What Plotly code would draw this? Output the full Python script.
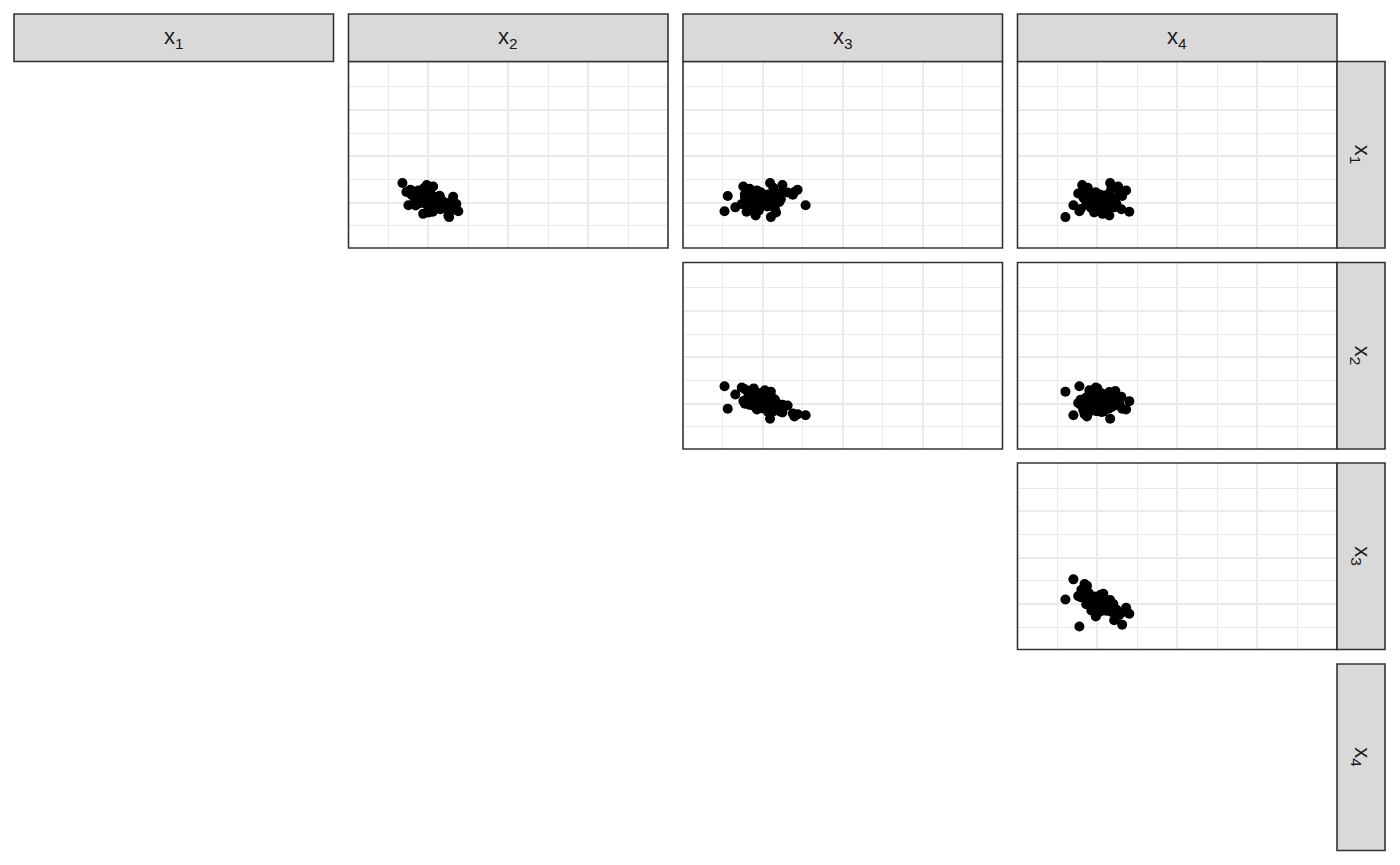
import plotly.graph_objects as go

# ---- data ----
var_labels = ["x<sub>1</sub>", "x<sub>2</sub>", "x<sub>3</sub>", "x<sub>4</sub>"]

x1 = [1.63, 1.89, 2.31, 2.05, 1.72, 2.48, 2.12, 1.95, 2.60, 1.84, 2.22, 2.02, 1.58, 2.37, 1.91,
      2.15, 2.70, 1.76, 2.08, 1.99, 2.44, 1.67, 2.26, 2.53, 1.87, 2.11, 1.80, 2.34, 1.98, 2.18,
      1.45, 2.40, 2.03, 1.93, 2.64, 1.70, 2.29, 2.07, 1.82, 2.56, 2.14, 1.96, 1.52, 2.36, 2.00,
      1.88, 2.20, 2.76, 1.78, 2.09, 1.61, 2.46, 2.24, 1.94, 2.01, 1.73, 2.32, 2.13, 2.85, 1.38,
      1.95, 2.10, 2.25, 1.85, 2.05, 1.78, 2.18, 2.30, 1.92, 2.02, 2.14, 1.88, 2.40, 1.70, 2.08,
      1.98, 2.22, 1.82, 2.35, 2.00, 1.90, 2.12, 2.28, 1.75, 2.04, 2.16, 1.86, 2.45, 1.94, 2.06]
x2 = [2.75, 1.50, 2.10, 1.85, 2.30, 1.62, 2.05, 2.42, 1.95, 2.18, 1.72, 2.55, 2.01, 1.88, 2.27,
      1.66, 2.12, 2.48, 1.80, 2.35, 1.92, 2.08, 2.62, 1.75, 2.20, 1.98, 2.40, 1.58, 2.15, 1.83,
      2.50, 2.03, 1.70, 2.25, 1.90, 2.66, 1.78, 2.32, 2.07, 1.55, 2.14, 2.45, 1.87, 2.00, 2.58,
      1.68, 2.22, 1.96, 2.38, 1.81, 2.11, 1.45, 2.29, 2.70, 1.93, 2.17, 1.64, 2.04, 1.35, 2.52,
      2.05, 1.90, 2.20, 2.35, 1.80, 2.10, 1.95, 2.28, 2.00, 1.72, 2.15, 2.40, 1.88, 2.02, 2.25,
      1.78, 2.08, 2.32, 1.92, 2.18, 2.45, 1.85, 1.98, 2.12, 2.38, 1.68, 2.22, 2.03, 1.94, 2.30]
x3 = [1.04, 3.07, 1.96, 1.95, 1.63, 2.49, 1.85, 1.99, 1.67, 2.11, 2.40, 1.62, 2.33, 1.88, 2.20,
      2.45, 1.51, 1.73, 2.21, 1.85, 2.62, 1.90, 1.55, 1.85, 2.28, 1.71, 1.31, 2.75, 2.00, 2.06,
      1.82, 2.35, 2.41, 1.76, 2.26, 1.77, 1.12, 2.14, 1.72, 2.87, 1.87, 1.94, 1.81, 1.55, 2.05,
      2.27, 2.01, 2.49, 1.79, 2.17, 1.59, 2.79, 1.83, 1.47, 1.74, 2.30, 2.13, 1.93, 2.18, 2.20,
      2.08, 1.88, 2.12, 1.81, 1.97, 1.86, 2.22, 1.72, 2.11, 2.14, 1.85, 1.99, 2.24, 1.74, 2.00,
      2.08, 1.86, 1.91, 2.12, 1.86, 1.83, 1.92, 2.15, 1.74, 2.00, 2.23, 1.79, 1.95, 2.07, 1.81]
x4 = [1.55, 1.40, 2.20, 1.95, 2.60, 1.78, 2.05, 1.88, 2.35, 2.12, 1.65, 2.45, 1.92, 2.28, 1.72,
      2.15, 2.52, 1.85, 2.02, 2.38, 1.60, 2.25, 1.98, 2.72, 1.82, 2.10, 2.42, 1.70, 2.18, 1.94,
      2.30, 1.52, 2.08, 2.48, 1.76, 2.00, 2.62, 1.90, 2.22, 1.68, 2.35, 1.86, 2.13, 2.55, 1.80,
      1.98, 2.40, 1.62, 2.26, 2.06, 2.80, 1.74, 2.16, 1.96, 2.44, 1.58, 2.10, 1.89, 2.32, 1.20,
      2.00, 2.15, 1.85, 2.25, 1.95, 2.32, 1.78, 2.08, 2.20, 1.90, 2.40, 2.02, 1.82, 2.12, 1.72,
      2.28, 1.98, 2.18, 2.05, 1.88, 2.10, 2.35, 1.92, 2.22, 1.80, 2.06, 2.45, 1.96, 2.14, 1.86]

variables = [x1, x2, x3, x4]
# panels: (row variable on y, column variable on x), upper triangle
panels = [(0, 1), (0, 2), (0, 3), (1, 2), (1, 3), (2, 3)]

x_range = [0, 8]
y_range = [0.05, 8.08]
major_ticks = [2, 4, 6]
minor_ticks = [1, 3, 5, 7]

# ---- layout geometry (pixels) ----
W, H = 1400, 865
col_left = [14, 348.5, 683, 1017.5]
col_w = 319.5
row_top = [61.5, 262.5, 463, 664]
row_h = 186.5
strip_top = 14
strip_x = (1337, 1385)

STRIP_FILL = "#D9D9D9"
BORDER = "#333333"
GRID = "#EBEBEB"
TEXT = "#1A1A1A"
FONT = "Liberation Sans, Arial, sans-serif"


def px(x):
    return x / W


def py(y):
    return 1 - y / H


fig = go.Figure()
layout = dict(
    width=W, height=H,
    margin=dict(l=0, r=0, t=0, b=0),
    paper_bgcolor="white", plot_bgcolor="white",
    showlegend=False,
    font=dict(family=FONT, color=TEXT),
)
shapes = []
annotations = []

for k, (r, c) in enumerate(panels):
    n = k + 1
    xa = "xaxis" if n == 1 else f"xaxis{n}"
    ya = "yaxis" if n == 1 else f"yaxis{n}"
    xref = "x" if n == 1 else f"x{n}"
    yref = "y" if n == 1 else f"y{n}"
    fig.add_trace(go.Scatter(
        x=variables[c], y=variables[r], mode="markers",
        marker=dict(color="black", size=10, line=dict(width=0)),
        xaxis=xref, yaxis=yref, hoverinfo="skip",
    ))
    axis_common = dict(
        showticklabels=False, ticks="", zeroline=False, showline=False,
        showgrid=True, gridcolor=GRID, gridwidth=1.5,
        tickmode="array", tickvals=major_ticks,
        minor=dict(tickmode="array", tickvals=minor_ticks, showgrid=True,
                   gridcolor=GRID, gridwidth=0.8, ticks=""),
        fixedrange=True,
    )
    layout[xa] = dict(axis_common, range=x_range, anchor=yref,
                      domain=[px(col_left[c]), px(col_left[c] + col_w)])
    layout[ya] = dict(axis_common, range=y_range, anchor=xref,
                      domain=[py(row_top[r] + row_h), py(row_top[r])])
    shapes.append(dict(type="rect", xref="paper", yref="paper",
                       x0=px(col_left[c]), x1=px(col_left[c] + col_w),
                       y0=py(row_top[r] + row_h), y1=py(row_top[r]),
                       line=dict(color=BORDER, width=1.6), fillcolor="rgba(0,0,0,0)",
                       layer="above"))

# column strips
for c in range(4):
    shapes.append(dict(type="rect", xref="paper", yref="paper",
                       x0=px(col_left[c]), x1=px(col_left[c] + col_w),
                       y0=py(row_top[0]), y1=py(strip_top),
                       line=dict(color=BORDER, width=1.6), fillcolor=STRIP_FILL,
                       layer="above"))
    annotations.append(dict(xref="paper", yref="paper",
                            x=px(col_left[c] + col_w / 2), y=py((strip_top + row_top[0]) / 2),
                            text=var_labels[c], showarrow=False,
                            xanchor="center", yanchor="middle",
                            font=dict(size=22, color=TEXT, family=FONT)))

# row strips
for r in range(4):
    shapes.append(dict(type="rect", xref="paper", yref="paper",
                       x0=px(strip_x[0]), x1=px(strip_x[1]),
                       y0=py(row_top[r] + row_h), y1=py(row_top[r]),
                       line=dict(color=BORDER, width=1.6), fillcolor=STRIP_FILL,
                       layer="above"))
    annotations.append(dict(xref="paper", yref="paper",
                            x=px((strip_x[0] + strip_x[1]) / 2), y=py(row_top[r] + row_h / 2),
                            text=var_labels[r], showarrow=False, textangle=90,
                            xanchor="center", yanchor="middle",
                            font=dict(size=22, color=TEXT, family=FONT)))

layout["shapes"] = shapes
layout["annotations"] = annotations
fig.update_layout(**layout)
fig.write_html("out.html")
